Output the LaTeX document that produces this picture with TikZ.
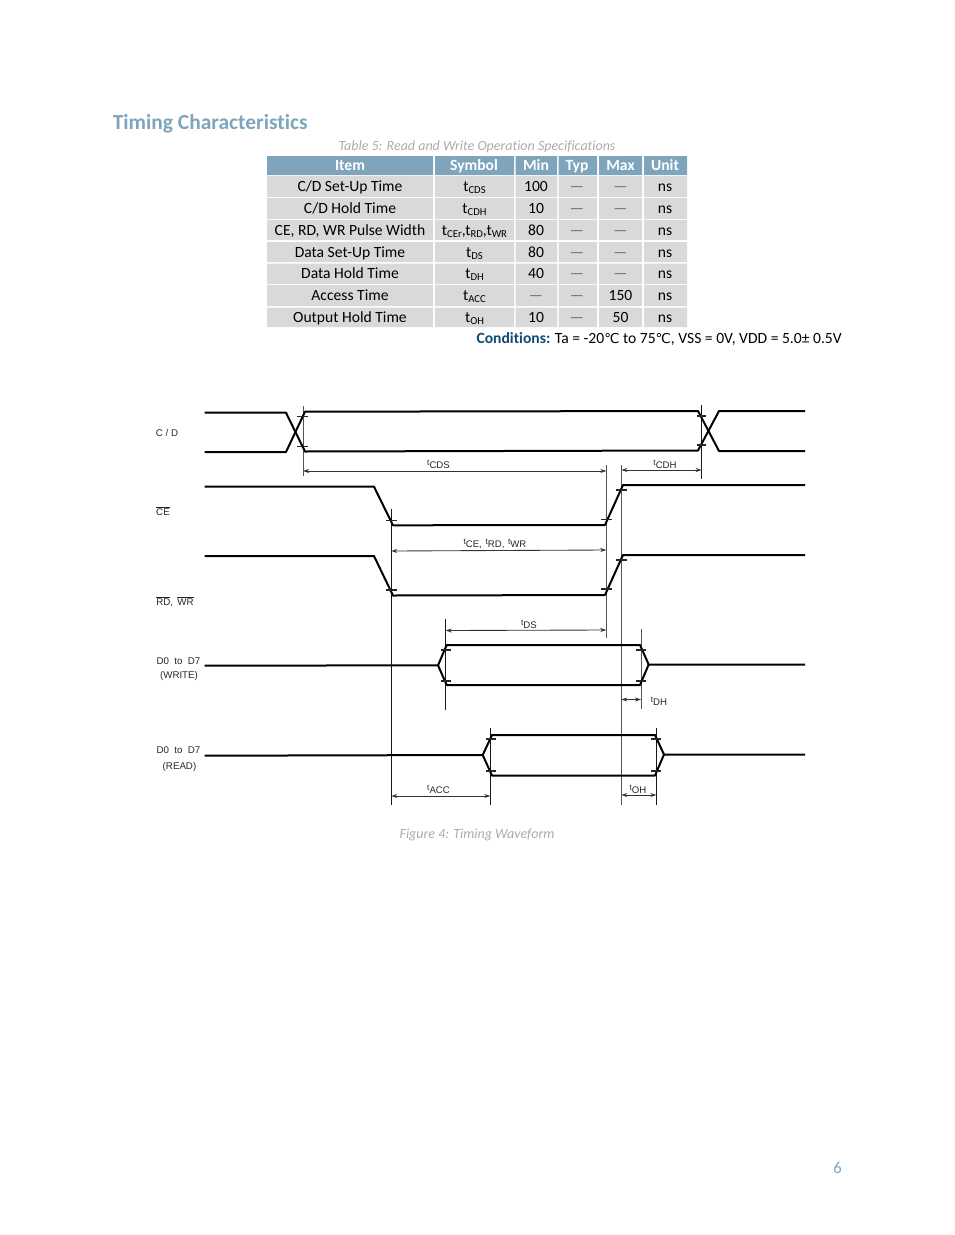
\documentclass[tikz,border=0pt]{standalone}
\usepackage{fontspec}
\setmainfont[Ligatures=NoCommon]{Carlito}
\newfontfamily\wavefont{Liberation Sans}
\newfontfamily\degfont{DejaVu Sans}
\usetikzlibrary{arrows.meta}
\definecolor{hdr}{HTML}{7FA5BD}
\definecolor{rowc}{HTML}{D9D9D9}
\definecolor{capc}{HTML}{ABABAB}
\definecolor{condc}{HTML}{0F4C70}
\definecolor{dashc}{HTML}{6A6A6A}
\definecolor{dimgrey}{HTML}{555555}
\newcommand{\lsub}[2]{#1\raisebox{-0.35ex}{\fontsize{8.0}{9}\selectfont #2}}
\newcommand{\wsub}[1]{\raisebox{0.4ex}{\fontsize{6.2}{7}\selectfont t}{\fontsize{7.2}{8}\selectfont #1}}
\newcommand{\dsh}{\textcolor{dashc}{—}}
\newcommand{\degc}{{\degfont\fontsize{10.2}{12}\selectfont ℃}}
\tikzset{
  sig/.style={line width=1.5pt,black,line join=round},
  ticks/.style={line width=0.8pt,black!85},
  guide/.style={line width=0.65pt,black!90},
  guideg/.style={line width=0.75pt,dimgrey},
  dimln/.style={line width=0.65pt,black!80,{Stealth[length=4.5pt,width=3pt]}-{Stealth[length=4.5pt,width=3pt]}},
  cellt/.style={anchor=base,inner sep=0pt,font=\fontsize{11.7}{13}\selectfont,text=black},
  headt/.style={anchor=base,inner sep=0pt,font=\fontsize{11.7}{13}\selectfont\bfseries,text=white},
  wlabel/.style={inner sep=0pt,font=\wavefont\fontsize{7.3}{8}\selectfont,text=black!85},
  tlabel/.style={inner sep=0pt,text=black!85,font=\wavefont},
}
\begin{document}
\begin{tikzpicture}[x=0.75pt,y=-0.75pt]
\useasboundingbox (0,0) rectangle (954,1235);
% Heading
\node[anchor=base west,inner sep=0pt,text=hdr,font=\fontsize{16.1}{18}\selectfont\bfseries] (title) at (112.5,129) {Timing Characteristics};
\node[anchor=base,inner sep=0pt,text=capc,font=\fontsize{10.5}{12}\selectfont\itshape] (tabcap) at (477,150) {Table 5: Read and Write Operation Specifications};
% Table backgrounds
\fill[hdr] (267,156) rectangle (433,175) (435,156) rectangle (514,175) (515.5,156) rectangle (557,175) (558.5,156) rectangle (597,175) (599,156) rectangle (642,175) (644,156) rectangle (687,175);
\foreach \ya/\yb in {176/197,198/219,220/240,242/262,263.5/284,285/306,307.5/327}{
  \fill[rowc] (267,\ya) rectangle (433,\yb) (435,\ya) rectangle (514,\yb) (515.5,\ya) rectangle (557,\yb) (558.5,\ya) rectangle (597,\yb) (599,\ya) rectangle (642,\yb) (644,\ya) rectangle (687,\yb);
}
% Header
\node[headt] (h1) at (350,170) {Item};
\node[headt] (h2) at (474,170) {Symbol};
\node[headt] (h3) at (536,170) {Min};
\node[headt] (h4) at (577,170) {Typ};
\node[headt] (h5) at (620.5,170) {Max};
\node[headt] (h6) at (665,170) {Unit};
% Rows
\foreach \n/\yy/\item/\sym/\mn/\ty/\mx in {
  a/191/{C/D Set-Up Time}/{\lsub{t}{CDS}}/{100}/{\dsh}/{\dsh},
  b/213/{C/D Hold Time}/{\lsub{t}{CDH}}/{10}/{\dsh}/{\dsh},
  c/235/{CE, RD, WR Pulse Width}/{\lsub{t}{CEr},\lsub{t}{RD},\lsub{t}{WR}}/{80}/{\dsh}/{\dsh},
  d/257/{Data Set-Up Time}/{\lsub{t}{DS}}/{80}/{\dsh}/{\dsh},
  e/278/{Data Hold Time}/{\lsub{t}{DH}}/{40}/{\dsh}/{\dsh},
  f/300/{Access Time}/{\lsub{t}{ACC}}/{\dsh}/{\dsh}/{150},
  g/322/{Output Hold Time}/{\lsub{t}{OH}}/{10}/{\dsh}/{50}}{
  \node[cellt] (\n1) at (350,\yy) {\item};
  \node[cellt] (\n2) at (474.5,\yy) {\sym};
  \node[cellt] (\n3) at (536,\yy) {\mn};
  \node[cellt] (\n4) at (577,\yy) {\ty};
  \node[cellt] (\n5) at (620.5,\yy) {\mx};
  \node[cellt] (\n6) at (665,\yy) {ns};
}
\node[anchor=base east,inner sep=0pt,font=\fontsize{11.7}{13}\selectfont] (cond) at (842,343) {\textcolor{condc}{\textbf{Conditions:}} Ta = -20\degc{} to 75\degc, VSS = 0V, VDD = 5.0± 0.5V};
% Signal labels
\node[wlabel] (lcd) at (167,433) {C / D};
\node[wlabel] (lce) at (163,511) {$\overline{\mbox{CE}}$};
\node[wlabel] (lrw) at (175,601.5) {$\overline{\mbox{RD}}$,\ \,$\overline{\mbox{WR}}$};
\node[wlabel] (lw1) at (178.5,661) {D0\ \ to\ \ D7};
\node[wlabel] (lw2) at (179,676) {(WRITE)};
\node[wlabel] (lr1) at (178.5,750) {D0\ \ to\ \ D7};
\node[wlabel] (lr2) at (179.5,766.5) {(READ)};
% Guides
\draw[guideg] (303,406) -- (303,476);
\draw[guide] (701.7,405) -- (701.7,479);
\draw[guideg] (606.3,465) -- (606.3,638);
\draw[guideg] (621.3,465) -- (621.3,805);
\draw[guide] (391.3,509) -- (391.3,805);
\draw[guide] (445.7,619) -- (445.7,710);
\draw[guideg] (641,629) -- (641,709);
\draw[guide] (490.3,728) -- (490.3,805);
\draw[guide] (656.3,728) -- (656.3,805);
% Waveforms
\draw[sig] (204.5,412.7) -- (286,412.7) -- (305,451.5) -- (698,450.5) -- (719,411) -- (805,411);
\draw[sig] (204.5,452) -- (286,452) -- (305,411.7) -- (698,411) -- (719,451) -- (805,451);
\draw[sig] (204.5,486.7) -- (374,486.7) -- (393,525.3) -- (605,525) -- (623,485) -- (805,485);
\draw[sig] (204.5,556) -- (374,556) -- (393,595.5) -- (605,595) -- (623,555) -- (805,555);
\draw[sig] (204.5,665.7) -- (438,665.3) -- (446.7,645) -- (640,645) -- (648.7,664.5) -- (805,664.5);
\draw[sig] (438,665.3) -- (446.7,685) -- (640,685) -- (648.7,664.5);
\draw[sig] (204.5,755.7) -- (482.7,755) -- (492,735) -- (655,735) -- (664,754.5) -- (805,754.5);
\draw[sig] (482.7,755) -- (492,775.5) -- (655,775.5) -- (664,754.5);
% Ticks
\foreach \xa/\xb/\yy in {
  297/308/416.7, 297/308/446.7, 697/706/416, 697/706/445,
  386/397/520.7, 386/397/590, 601/612/519.5, 601/612/589,
  616/627/490, 616/627/560,
  441/451/650, 441/451/681, 636/646/650, 636/646/681,
  486/496/739, 486/496/771, 651/661/739, 651/661/771}{
  \draw[ticks] (\xa,\yy) -- (\xb,\yy);
}
% Dimension lines
\coordinate (cdsa) at (303,471); \coordinate (cdsb) at (606.3,471);
\coordinate (cdha) at (621.3,470); \coordinate (cdhb) at (701.7,470);
\coordinate (cea) at (391.3,551); \coordinate (ceb) at (606.3,550);
\coordinate (dsa) at (445.7,630.5); \coordinate (dsb) at (606.3,630);
\coordinate (dha) at (621.3,699.5); \coordinate (dhb) at (641,699.5);
\coordinate (acca) at (391.3,796); \coordinate (accb) at (490.3,796);
\coordinate (oha) at (621.3,795); \coordinate (ohb) at (656.3,795);
\draw[dimln] (cdsa) -- (cdsb);
\draw[dimln] (cdha) -- (cdhb);
\draw[dimln] (cea) -- (ceb);
\draw[dimln] (dsa) -- (dsb);
\draw[dimln] (dha) -- (dhb);
\draw[dimln] (acca) -- (accb);
\draw[dimln] (oha) -- (ohb);
% Timing labels
\node[tlabel] (tcds) at (438.5,464.5) {\wsub{CDS}};
\node[tlabel] (tcdh) at (665,464) {\wsub{CDH}};
\node[tlabel] (tce) at (495,544) {\wsub{CE,} \wsub{RD,} \wsub{WR}};
\node[tlabel] (tds) at (529,624) {\wsub{DS}};
\node[tlabel] (tdh) at (659,701.5) {\wsub{DH}};
\node[tlabel] (tacc) at (438.5,789) {\wsub{ACC}};
\node[tlabel] (toh) at (638,789) {\wsub{OH}};
% Footer
\node[anchor=base,inner sep=0pt,text=capc,font=\fontsize{10.5}{12}\selectfont\itshape] (figcap) at (477,838) {Figure 4: Timing Waveform};
\node[anchor=base east,inner sep=0pt,text=hdr,font=\fontsize{12.5}{14}\selectfont] (pg) at (842,1173.5) {6};
\end{tikzpicture}
\end{document}
